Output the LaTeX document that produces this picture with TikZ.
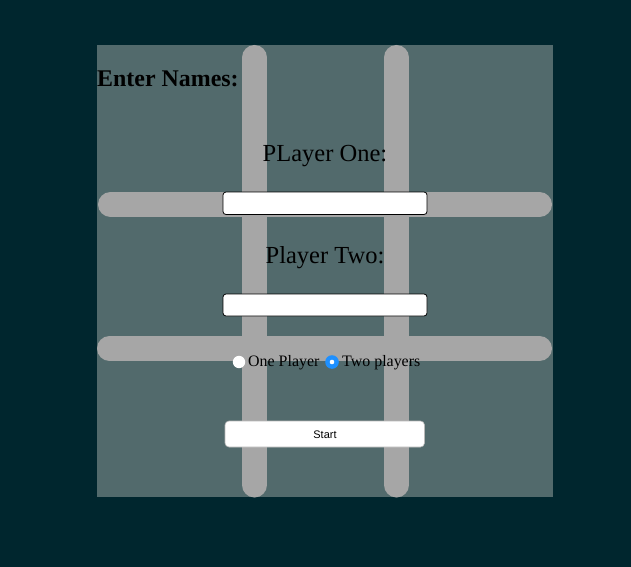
\documentclass[tikz,border=0pt]{standalone}
\usepackage{fontspec}
\setmainfont{Liberation Serif}
\setsansfont{Liberation Sans}
\definecolor{outerbg}{RGB}{0,38,46}
\definecolor{panelbg}{RGB}{82,106,108}
\definecolor{gridbar}{RGB}{166,166,166}
\definecolor{radioblue}{RGB}{30,144,255}
\tikzset{
  bar/.style={gridbar, line width=25bp, line cap=round},
  namebox/.style={draw=black, fill=white, rounded corners=3bp, line width=0.8bp},
  label/.style={font=\fontsize{24.6}{28}\selectfont, anchor=base},
  radiotext/.style={font=\fontsize{16}{19}\selectfont, anchor=base west, inner sep=0pt}
}
\begin{document}
\begin{tikzpicture}[x=1bp, y=-1bp]
\fill[outerbg] (0,0) rectangle (631,567);
\useasboundingbox (0,0) rectangle (631,567);
\fill[panelbg] (97,45) rectangle (553,497);
% grid of the board
\foreach \x in {254.5,396.5}
{
    \draw[bar] (\x,57.5)--(\x,485);
}
\draw[bar] (110.5,204.5)--(539.5,204.5);
\draw[bar] (109.5,348.5)--(539.5,348.5);

\node[font=\bfseries\fontsize{24}{28}\selectfont, anchor=base west, inner sep=0pt] (title) at (97,87) {Enter Names:};
\node[label] (one) at (325,162) {PLayer One:};
\draw[namebox] (223,192) rectangle (427,214.5); \coordinate (inputone) at (325,203);
\node[label] (two) at (325,263) {Player Two:};
\draw[namebox] (223,294) rectangle (427,316); \coordinate (inputtwo) at (325,305);

\fill[white] (239,362) circle (6.2);
\node[radiotext] (oneplayer) at (248,366) {One Player};
\fill[radioblue] (332,362) circle (6.8);
\fill[white] (332,362) circle (2.3);
\node[radiotext] (twoplayers) at (342,366) {Two players};

\draw[draw=gridbar!80, fill=white, rounded corners=4bp, line width=0.6bp] (225,421) rectangle (424.5,447);
\node[font=\sffamily\fontsize{11}{13}\selectfont] (start) at (325,434.5) {Start};
\end{tikzpicture}
\end{document}
